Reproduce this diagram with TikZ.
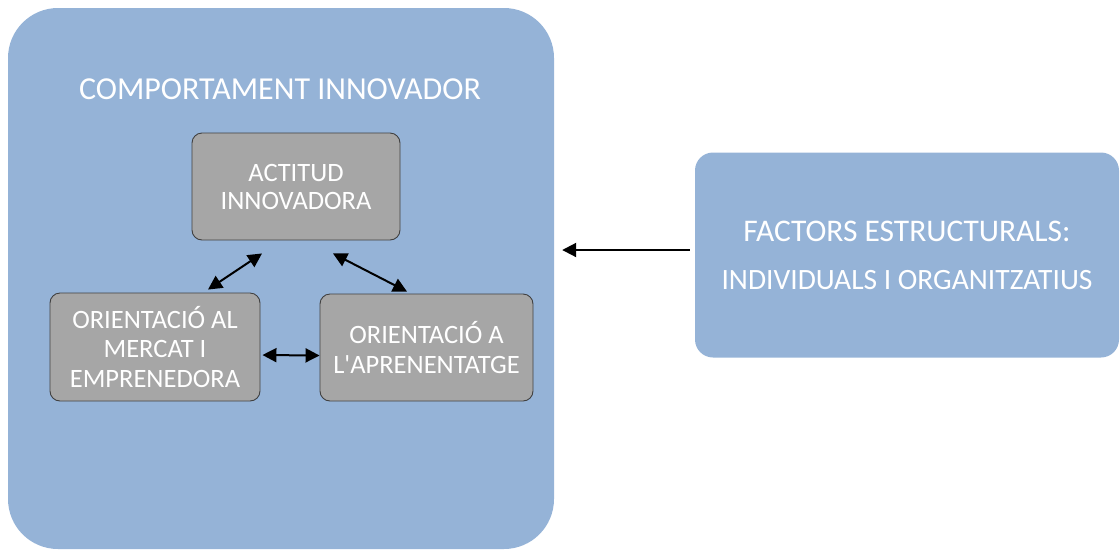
\documentclass[tikz,border=0pt]{standalone}
\usepackage{fontspec}
\setmainfont{Carlito}
\usetikzlibrary{arrows.meta}
\definecolor{boxblue}{HTML}{95B3D7}
\definecolor{boxgray}{HTML}{A6A6A6}
\definecolor{boxedge}{HTML}{404040}
\tikzset{
  bigbox/.style={fill=boxblue, draw=none, rounded corners=50pt, minimum width=546pt, minimum height=541pt, inner sep=0pt},
  facbox/.style={fill=boxblue, draw=none, rounded corners=18pt, minimum width=424pt, minimum height=205pt, inner sep=0pt, text=white, align=center, font=\fontsize{31.5}{36}\selectfont},
  graybox/.style={fill=boxgray, draw=boxedge, line width=0.9pt, rounded corners=10pt, inner sep=0pt, text=white, align=center, font=\fontsize{26.5}{29.5}\selectfont},
  titletext/.style={text=white, font=\fontsize{32}{36}\selectfont, inner sep=0pt},
  dblarr/.style={{Triangle[length=14pt,width=14pt]}-{Triangle[length=14pt,width=14pt]}, line width=2pt, black},
  onearr/.style={-{Triangle[length=14pt,width=14pt]}, line width=2pt, black},
}
\begin{document}
\begin{tikzpicture}[x=1pt,y=-1pt]
\useasboundingbox (0,0) rectangle (1120,550);
\node[bigbox] (big) at (281,278.5) {};
\node[titletext] (title) at (280,89) {COMPORTAMENT INNOVADOR};
\node[graybox, minimum width=208pt, minimum height=107pt] (act) at (296,186.5) {ACTITUD\\[-1.5pt]INNOVADORA};
\node[graybox, minimum width=210pt, minimum height=108pt] (left) at (155,347) {ORIENTACIÓ AL\\MERCAT I\\EMPRENEDORA};
\node[graybox, minimum width=213pt, minimum height=107pt] (apr) at (426.5,347.5) {ORIENTACIÓ A\\L\textquotesingle APRENENTATGE};
\node[facbox] (fac) at (907,255) {FACTORS ESTRUCTURALS:\\[12pt]{\fontsize{29.5}{34}\selectfont INDIVIDUALS I ORGANITZATIUS}};
\coordinate (a1) at ([xshift=53pt,yshift=3pt]left.north);
\coordinate (a2) at ([xshift=-34pt,yshift=-13pt]act.south);
\coordinate (b1) at ([xshift=37pt,yshift=-13pt]act.south);
\coordinate (b2) at ([xshift=-19.5pt,yshift=2pt]apr.north);
\draw[dblarr] (a1) -- (a2);
\draw[dblarr] (b1) -- (b2);
\draw[dblarr, shorten <=2pt] ([yshift=-8pt]left.east) -- ([yshift=-8pt]apr.west);
\coordinate (p) at ([yshift=5pt]fac.west);
\draw[onearr, shorten <=5pt, shorten >=8pt] (p) -- (big.east |- p);
\end{tikzpicture}
\end{document}
